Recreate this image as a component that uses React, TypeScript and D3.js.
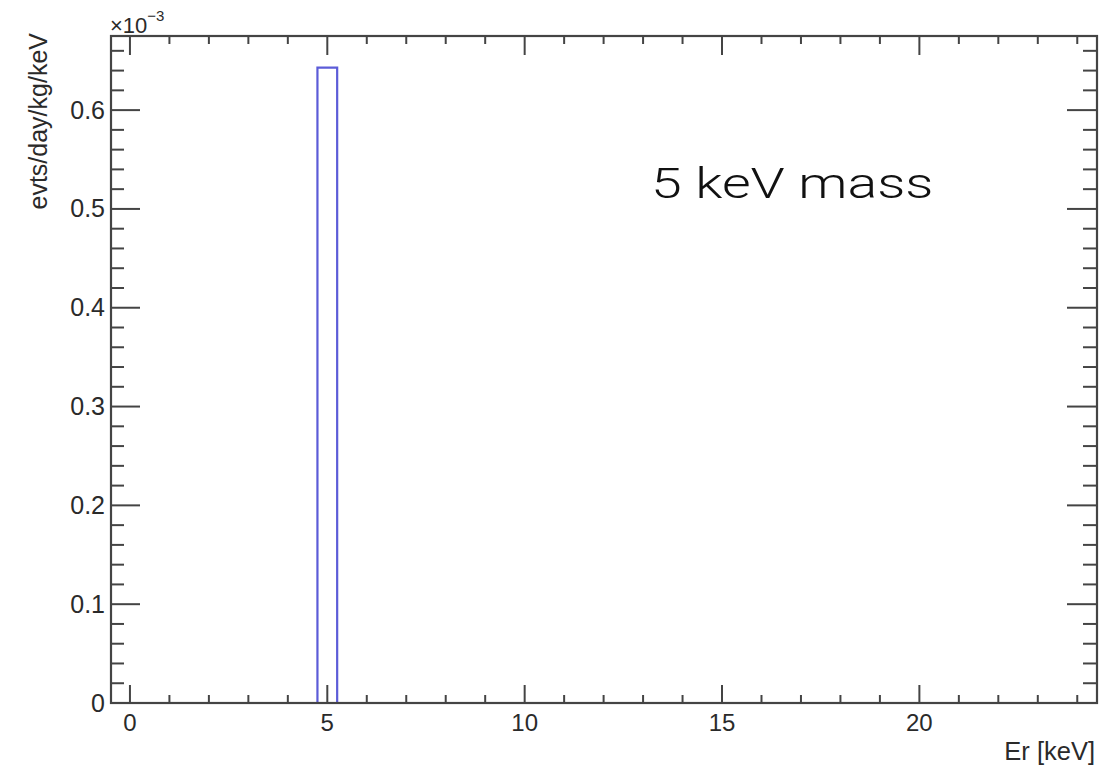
import React from "react";
import * as d3 from "d3";

const binLow = [4.75];
const binHigh = [5.25];
const binValues = [0.643];
const xMajorTicks = [0, 5, 10, 15, 20];
const yMajorTicks = [0, 0.1, 0.2, 0.3, 0.4, 0.5, 0.6];
const yTickLabels = ["0", "0.1", "0.2", "0.3", "0.4", "0.5", "0.6"];
const xTickLabels = ["0", "5", "10", "15", "20"];

const W = 1118, H = 769;
const L = 111, R = 1097, T = 36, B = 703;

export default function App() {
  const x = d3.scaleLinear().domain([-0.48, 24.5]).range([L, R]);
  const y = d3.scaleLinear().domain([0, 0.675]).range([B, T]);
  const xMinor = d3.range(0, 25, 1).filter((v) => v % 5 !== 0);
  const yMinor = d3.range(0, 0.675, 0.02).map((v) => +v.toFixed(2)).filter((v) => Math.round(v * 100) % 10 !== 0);
  const axisColor = "#444";
  const textColor = "#2a2a2a";
  const font = "'Liberation Sans', Arial, Helvetica, sans-serif";

  const histPath = binLow
    .map((lo, i) => {
      const hi = binHigh[i];
      return `M${x(lo)},${y(0)}L${x(lo)},${y(binValues[i])}L${x(hi)},${y(binValues[i])}L${x(hi)},${y(0)}`;
    })
    .join("");

  return (
    <svg width={W} height={H} style={{ position: "absolute", left: 0, top: 0, background: "#fff" }}>
      <rect x={0} y={0} width={W} height={H} fill="#fff" />
      <path d={histPath} fill="none" stroke="#5c5cd8" strokeWidth={2.2} />
      <rect x={L} y={T} width={R - L} height={B - T} fill="none" stroke={axisColor} strokeWidth={2.2} />
      {xMajorTicks.map((v) => (
        <g key={"xm" + v}>
          <line x1={x(v)} x2={x(v)} y1={B} y2={B - 18} stroke={axisColor} strokeWidth={2} />
          <line x1={x(v)} x2={x(v)} y1={T} y2={T + 19} stroke={axisColor} strokeWidth={2} />
        </g>
      ))}
      {xMinor.map((v) => (
        <g key={"xn" + v}>
          <line x1={x(v)} x2={x(v)} y1={B} y2={B - 8} stroke={axisColor} strokeWidth={2} />
          <line x1={x(v)} x2={x(v)} y1={T} y2={T + 8} stroke={axisColor} strokeWidth={2} />
        </g>
      ))}
      {yMajorTicks.map((v) => (
        <g key={"ym" + v}>
          <line x1={L} x2={L + 29} y1={y(v)} y2={y(v)} stroke={axisColor} strokeWidth={2} />
          <line x1={R} x2={R - 30} y1={y(v)} y2={y(v)} stroke={axisColor} strokeWidth={2} />
        </g>
      ))}
      {yMinor.map((v) => (
        <g key={"yn" + v}>
          <line x1={L} x2={L + 13} y1={y(v)} y2={y(v)} stroke={axisColor} strokeWidth={2} />
          <line x1={R} x2={R - 14} y1={y(v)} y2={y(v)} stroke={axisColor} strokeWidth={2} />
        </g>
      ))}
      {xMajorTicks.map((v, i) => (
        <text key={"xl" + v} x={x(v)} y={731} textAnchor="middle" fontFamily={font} fontSize={24} fill={textColor}>
          {xTickLabels[i]}
        </text>
      ))}
      {yMajorTicks.map((v, i) => (
        <text key={"yl" + v} x={105} y={y(v) + 8.5} textAnchor="end" fontFamily={font} fontSize={25} fill={textColor}>
          {yTickLabels[i]}
        </text>
      ))}
      <text x={110} y={33} fontFamily={font} fontSize={22} fill={textColor}>
        ×10
        <tspan dy={-12} fontSize={15}>−3</tspan>
      </text>
      <text x={1095} y={760} textAnchor="end" fontFamily={font} fontSize={25.5} fill={textColor}>
        Er [keV]
      </text>
      <text
        transform="translate(47,33) rotate(-90)"
        textAnchor="end"
        fontFamily={font}
        fontSize={25}
        fill={textColor}
      >
        evts/day/kg/keV
      </text>
      <g transform="translate(651,198) scale(1.29,1)">
        <text
          x={0}
          y={0}
          fontFamily="'Helvetica Neue', Roboto, sans-serif"
          fontWeight={300}
          fontSize={43}
          fill="#111"
        >
          5 keV mass
        </text>
      </g>
    </svg>
  );
}
